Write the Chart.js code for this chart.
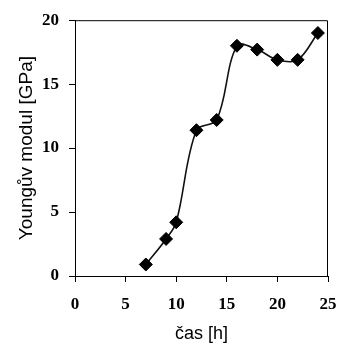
<!DOCTYPE html>
<html>
<head>
<meta charset="utf-8">
<script src="https://cdn.jsdelivr.net/npm/chart.js@4"></script>
<style>
  html, body { margin: 0; padding: 0; background: #fff; }
</style>
</head>
<body>
<canvas id="modulChart" width="338" height="344"></canvas>
<script>
const hours = [7, 9, 10, 12, 14, 16, 18, 20, 22, 24];
const modulus = [0.9, 2.9, 4.2, 11.4, 12.2, 18.0, 17.7, 16.9, 16.9, 19.0];
const xTicks = [0, 5, 10, 15, 20, 25];
const yTicks = [0, 5, 10, 15, 20];

// top + right sides of the frame
const frameBox = {
    id: 'frameBox',
    afterDraw(chart) {
        const { ctx, chartArea: a } = chart;
        ctx.save();
        ctx.strokeStyle = '#000';
        ctx.lineWidth = 1;
        ctx.beginPath();
        ctx.moveTo(a.left, a.top + 0.5);
        ctx.lineTo(a.right - 0.5, a.top + 0.5);
        ctx.lineTo(a.right - 0.5, a.bottom);
        ctx.stroke();
        ctx.restore();
    }
};

new Chart(document.getElementById('modulChart'), {
    type: 'scatter',
    data: {
        datasets: [{
            data: hours.map((h, i) => ({ x: h, y: modulus[i] })),
            showLine: true,
            tension: 0.35,
            borderColor: '#111',
            borderWidth: 1.6,
            pointStyle: 'rectRot',
            pointRadius: 6.5,
            pointBackgroundColor: '#000',
            pointBorderColor: '#000',
            pointBorderWidth: 1
        }]
    },
    options: {
        responsive: false,
        animation: false,
        devicePixelRatio: 1,
        layout: { padding: { top: 20, right: 10, left: 0, bottom: 0 } },
        plugins: { legend: { display: false }, tooltip: { enabled: false } },
        scales: {
            x: {
                type: 'linear',
                min: 0, max: 25,
                afterBuildTicks: s => { s.ticks = xTicks.map(v => ({ value: v })); },
                afterFit: s => { s.height = 68; },
                grid: { drawOnChartArea: false, drawTicks: true, tickLength: 6, color: '#000' },
                border: { color: '#000', width: 1 },
                // tall lineHeight pushes the labels down without widening the side padding
                ticks: {
                    color: '#000', padding: 1, maxRotation: 0,
                    font: { family: 'Liberation Serif', size: 17, weight: 'bold', lineHeight: 2.6 }
                },
                title: {
                    display: true, text: 'čas [h]', color: '#000',
                    font: { family: 'Liberation Sans', size: 18, lineHeight: 1.1 },
                    padding: { top: 0, bottom: 0 }
                }
            },
            y: {
                type: 'linear',
                min: 0, max: 20,
                afterBuildTicks: s => { s.ticks = yTicks.map(v => ({ value: v })); },
                afterFit: s => { s.width = 75; },
                grid: { drawOnChartArea: false, drawTicks: true, tickLength: 6, color: '#000' },
                border: { color: '#000', width: 1 },
                ticks: {
                    color: '#000', padding: 10,
                    font: { family: 'Liberation Serif', size: 17, weight: 'bold' }
                },
                title: {
                    display: true, text: 'Youngův modul [GPa]', color: '#000',
                    font: { family: 'Liberation Sans', size: 19, lineHeight: 1.2 },
                    padding: { top: 15, bottom: 0 }
                }
            }
        }
    },
    plugins: [frameBox]
});
</script>
</body>
</html>
